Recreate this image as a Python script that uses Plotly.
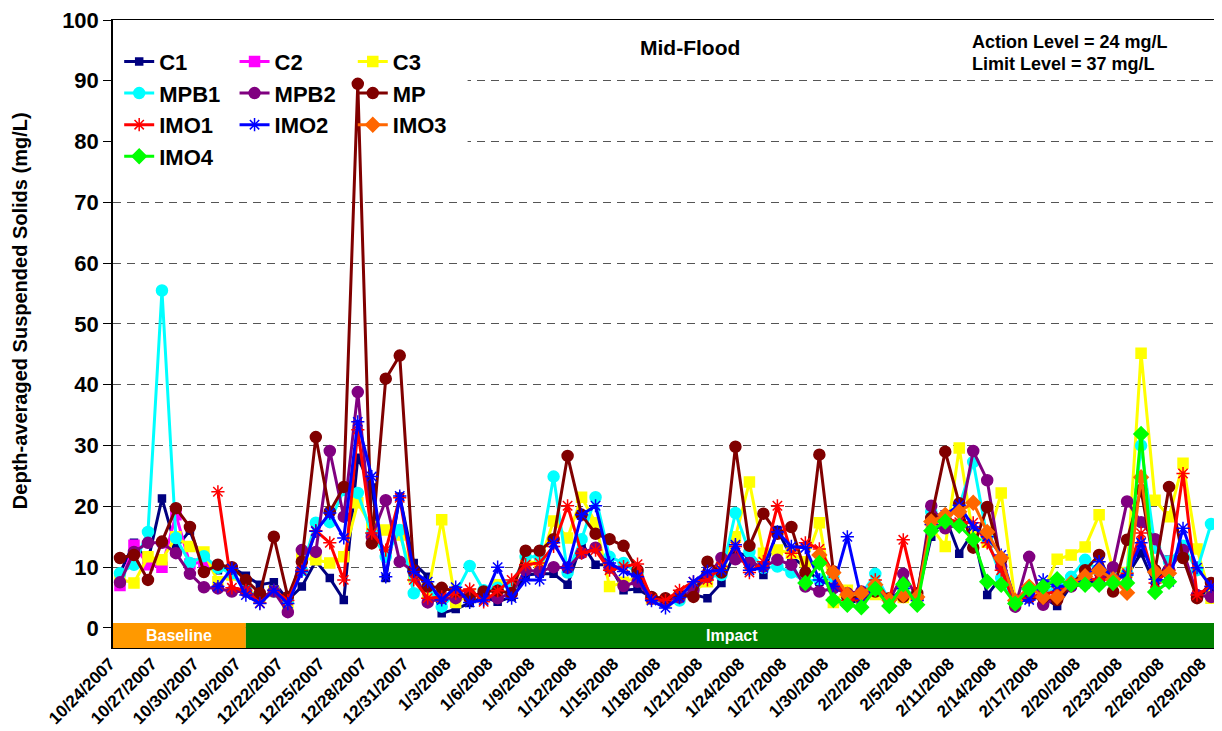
import plotly.graph_objects as go

dates = [
    "10/24/2007", "10/25/2007", "10/26/2007", "10/27/2007", "10/28/2007", "10/29/2007",
    "10/30/2007", "10/31/2007", "12/18/2007", "12/19/2007", "12/20/2007", "12/21/2007",
    "12/22/2007", "12/23/2007", "12/24/2007", "12/25/2007", "12/26/2007", "12/27/2007",
    "12/28/2007", "12/29/2007", "12/30/2007", "12/31/2007", "1/1/2008", "1/2/2008",
    "1/3/2008", "1/4/2008", "1/5/2008", "1/6/2008", "1/7/2008", "1/8/2008",
    "1/9/2008", "1/10/2008", "1/11/2008", "1/12/2008", "1/13/2008", "1/14/2008",
    "1/15/2008", "1/16/2008", "1/17/2008", "1/18/2008", "1/19/2008", "1/20/2008",
    "1/21/2008", "1/22/2008", "1/23/2008", "1/24/2008", "1/25/2008", "1/26/2008",
    "1/27/2008", "1/28/2008", "1/29/2008", "1/30/2008", "1/31/2008", "2/1/2008",
    "2/2/2008", "2/3/2008", "2/4/2008", "2/5/2008", "2/7/2008", "2/9/2008",
    "2/11/2008", "2/12/2008", "2/13/2008", "2/14/2008", "2/15/2008", "2/16/2008",
    "2/17/2008", "2/18/2008", "2/19/2008", "2/20/2008", "2/21/2008", "2/22/2008",
    "2/23/2008", "2/24/2008", "2/25/2008", "2/26/2008", "2/27/2008", "2/28/2008",
    "2/29/2008",
]
tick_labels = dates[::3]

N = None
C1 = [9, 14, 11, 21.3, 13.2, 16, 10, 9.5, 10, 8.6, 7.1, 7.5, 4.6, 6.8, 11, 8.2, 4.6, 28, 23.1, 8.2,
      21.6, 10.7, 8.4, 2.4, 3.1, 4.1, 5.1, 4.3, 5.1, 8.7, 8.9, 8.9, 7.1, 14, 10.4, 10.4, 6.2, 6.4, 5, 4,
      5, 5.5, 4.9, 7.4, 12.5, 11.7, 8.7, 16.1, 11.7, 10, 7.6, 8.4, 4.5, 4.2, 6, 4.5, 6, 5, 15, 18.3,
      12.2, 15.8, 5.4, 8.4, 4, 4.9, 5, 3.6, 7, 7.1, 8.2, 8, 8.6, 12.3, 7.1, 11.2, 12, 5.5, 6]
C2 = [7, 13.6, 10.4, 10, 18.6, 10.5, 10.9] + [N] * 72
C3 = [8, 7.4, 11.7, 11.2, 15, 13.4, 12.5, 7.6, 8.7, 6.5, 5, 6, 4, 11.5, 11.2, 10.7, 11.7, 20.6, 16.6, 16.1,
      15.3, 8.4, 5.7, 17.8, 4.2, 5.5, 5.5, 7.1, 6.8, 10.9, 10.7, 17.6, 14.8, 21.5, 17.3, 6.8, 7.5, 8.4, 4.8, 4.3,
      5, 6, 7.6, 9.9, 15, 24, 12.3, 12.8, 12.3, 10.9, 17.3, 4.2, 6.2, 5, 5.5, 4.5, 5, 4.5, 16.6, 13.4,
      29.6, 15, 14.1, 22.2, 4.5, 6, 6, 11.3, 12, 13.3, 18.6, 9.5, 9.1, 45.2, 21, 18.3, 27.1, 13, 4.9]
MPB1 = [9, 10.4, 15.8, 55.5, 14.8, 10.7, 11.8, 9.9, 9, 6.2, 5, 6, 4.5, 9.5, 17.3, 17.4, 22.7, 22.2, 15.5, 11.7,
        16.1, 5.7, 6.8, 3.5, 5.7, 10.2, 6.2, 6.6, 7.1, 11.7, 11.7, 24.9, 9.1, 14.6, 21.5, 11.7, 10.7, 9, 5, 4.3,
        4.5, 6.5, 8.4, 8.7, 18.9, 12.5, 9.9, 10.1, 9.1, 7.6, 8, 8.4, 5, 5.5, 8.9, 4.5, 6.5, 5, 19.1, 18.1,
        20, 27.3, 14.8, 8.2, 4, 6, 6, 6.5, 8.4, 11.2, 9.3, 8.2, 9, 30, 13.2, 10.9, 13.5, 9.5, 17.1]
MPB2 = [7.5, 12.5, 14, 14, 12.3, 8.9, 6.7, 6.5, 6, 6, 5, 6, 2.6, 12.8, 12.5, 29.1, 18.3, 38.8, 15, 21,
        10.9, 9.3, 4.2, 4.9, 4.9, 5.5, 5.5, 4.9, 5.7, 9.5, 9.3, 10, 9.9, 12.3, 13.2, 9.9, 6.9, 7.6, 4.8, 4.5,
        5, 6.2, 8.4, 11.5, 11.3, 10.7, 10.1, 11.2, 10.4, 6.8, 6, 6.5, 5.7, 6, 6.5, 4.5, 8.9, 5, 20.1, 16.4,
        17, 29.1, 24.3, 10.1, 3.5, 11.7, 3.8, 5, 6.8, 8.5, 7.5, 10, 20.8, 17.4, 14.6, 9.5, 12.8, 5.4, 5.1]
MP = [11.5, 12, 7.9, 14.2, 19.7, 16.6, 9.2, 10.4, 10, 7.9, 5.7, 15, 5.1, 10.9, 31.4, 19.1, 23.2, 89.5, 13.9, 41,
      44.8, 9.5, 6.8, 6.6, 6, 4.9, 6, 6.1, 5.7, 12.7, 12.7, 14.6, 28.3, 18.6, 15.5, 14.6, 13.5, 9.5, 5.1, 4.9,
      5.5, 5.1, 10.9, 9.1, 29.8, 13.5, 18.8, 15.5, 16.6, 9.1, 28.5, 9.3, 5.1, 4.9, 6, 4.9, 5.1, 5.7, 18.1, 29,
      20.5, 13.2, 19.9, 11.2, 4.5, 5, 5, 4.6, 7, 9.5, 12, 6, 14.5, 22.7, 9.5, 23.2, 11.5, 4.9, 7.4]
IMO1 = [N] * 7 + [22.4, 6.6, 6.2, 4.1, 6.2, 4.5, 9.5, 16, 14, 7.9, 32.6, 15.6, 12.8,
                  21.4, 7.9, 4.9, 5.1, 5.7, 6.4, 4.3, 6.1, 7.9, 10.4, 10.7, 13.4, 20.1, 12.3, 12.8, 9.5, 10.1, 10.5, 4.8, 4.5,
                  6.2, 7.6, 7.9, 10.1, 13.4, 9.1, 10.9, 20.1, 12.3, 14, 13, 9, 4.5, 4.8, 7.9, 4.5, 14.5, 4.8, 17, 18,
                  17.4, 17.3, 14, 9.5, 4, 5.1, 5.5, 6, 7, 8, 8, 8, 9, 15.6, 7.4, 9.5, 25.4, 5.4, 6.8]
IMO2 = [N] * 7 + [6.8, 9.8, 5.4, 4, 6.2, 4, 9.3, 15.9, 18.9, 14.8, 33.9, 24.9, 8.4,
                  21.7, 9.3, 7.6, 4.6, 6.7, 4.2, 4.6, 10, 4.9, 7.9, 7.9, 14, 9.9, 18.6, 20.1, 10.7, 9.3, 8.4, 4.5, 3.3,
                  5, 7.6, 9.3, 9.5, 13.7, 9.5, 9.9, 15.8, 13.4, 13.2, 7.9, 6.8, 15, 4.8, 6.5, 4.5, 6.5, 4.5, 17, 18.6,
                  20.2, 16.6, 15, 12, 4.3, 4.6, 7.9, 6.8, 7, 8, 10.9, 8, 8.7, 14, 8, 7.6, 16.4, 9.9, 6.8]
IMO3 = [N] * 50 + [12, 9.1, 5.5, 5.7, 7.1, 4.6, 5.4, 5.1, 17.5, 18.6,
                   19.1, 20.6, 15.8, 11.5, 4.5, 6.8, 5.1, 5.1, 7.4, 8.5, 9.5, 8, 5.8, 24.8, 9.2, 9] + [N] * 3
IMO4 = [N] * 49 + [7.4, 10.7, 4.6, 3.8, 3.4, 6.4, 3.6, 7.2, 3.8, 16, 17.5,
                   16.8, 14.5, 7.6, 7.1, 4, 6.4, 6.8, 8, 7.1, 7.1, 7.1, 7.4, 7.4, 31.9, 5.9, 7.6] + [N] * 3

series = [
    ("C1", C1, "#000080", "square", 7, "legend"),
    ("C2", C2, "#FF00FF", "square", 10, "legend2"),
    ("C3", C3, "#FFFF00", "square", 10, "legend3"),
    ("MPB1", MPB1, "#00FFFF", "circle", 11, "legend"),
    ("MPB2", MPB2, "#800080", "circle", 11, "legend2"),
    ("MP", MP, "#800000", "circle", 11, "legend3"),
    ("IMO1", IMO1, "#FF0000", "asterisk-open", 11, "legend"),
    ("IMO2", IMO2, "#0000FF", "asterisk-open", 11, "legend2"),
    ("IMO3", IMO3, "#FF6600", "diamond", 11, "legend3"),
    ("IMO4", IMO4, "#00FF00", "diamond", 11, "legend"),
]

FONT = "Liberation Sans, Arial, sans-serif"
fig = go.Figure()
for name, vals, col, sym, sz, lg in series:
    fig.add_trace(go.Scatter(
        x=dates, y=vals, name=name, mode="lines+markers", legend=lg,
        line=dict(color=col, width=3),
        marker=dict(symbol=sym, size=sz, color=col, line=dict(color=col, width=1.5)),
        connectgaps=False,
    ))

legend_common = dict(font=dict(family=FONT, size=22, color="black", weight="bold"),
                     bgcolor="rgba(0,0,0,0)", borderwidth=0, xanchor="left", yanchor="top",
                     tracegroupgap=0, orientation="v")
fig.update_layout(
    width=1214, height=723,
    margin=dict(l=105, r=4, t=12, b=83, autoexpand=False),
    paper_bgcolor="white", plot_bgcolor="white",
    font=dict(family=FONT, color="black"),
    legend=dict(x=0.0056, y=0.967, **legend_common),
    legend2=dict(x=0.110, y=0.967, **legend_common),
    legend3=dict(x=0.217, y=0.967, **legend_common),
    showlegend=True,
)
fig.update_xaxes(
    type="category", categoryorder="array", categoryarray=dates,
    range=[-0.5, len(dates) - 0.5], automargin=False,
    tickmode="array", tickvals=tick_labels, ticktext=tick_labels,
    tickangle=-45, tickfont=dict(family=FONT, size=17, color="black", weight="bold"),
    ticklabelshift=-10, ticklabelstandoff=-2, ticklabeloverflow="allow",
    showgrid=False, showline=True, mirror=True, linecolor="black", linewidth=1.2,
    ticks="", zeroline=False,
)
fig.update_yaxes(
    range=[-3.3, 100], tickmode="array", tickvals=list(range(0, 101, 10)), automargin=False,
    tickfont=dict(family=FONT, size=22, color="black", weight="bold"),
    ticklabeloverflow="allow",
    ticks="outside", ticklen=8, tickcolor="black", tickwidth=1.2,
    showline=True, mirror=True, linecolor="black", linewidth=1.5,
    showgrid=True, gridcolor="#555555", gridwidth=1.3, griddash="8px,6px",
    zeroline=False,
)

# white panel behind the legend (hides gridlines, stays under the data)
fig.add_shape(type="rect", xref="x", yref="y", x0=-0.5, x1=24.85, y0=73.5, y1=97.5,
              fillcolor="white", line=dict(width=0), layer="between")
# phase bars
fig.add_shape(type="rect", xref="x", yref="y", x0=-0.5, x1=9, y0=-3.3, y1=0.8,
              fillcolor="#FF9900", line=dict(width=0), layer="above")
fig.add_shape(type="rect", xref="x", yref="y", x0=9, x1=len(dates) - 0.5, y0=-3.3, y1=0.8,
              fillcolor="#008000", line=dict(width=0), layer="above")
fig.add_annotation(x=4.25, y=-1.25, xref="x", yref="y", text="Baseline", showarrow=False,
                   font=dict(family=FONT, size=16, color="white", weight="bold"))
fig.add_annotation(x=43.75, y=-1.25, xref="x", yref="y", text="Impact", showarrow=False,
                   font=dict(family=FONT, size=16, color="white", weight="bold"))

fig.add_annotation(x=0.522, y=0.978, xref="paper", yref="paper", text="Mid-Flood", showarrow=False,
                   font=dict(family=FONT, size=21, color="black", weight="bold"))
fig.add_annotation(x=0.776, y=0.9835, xref="paper", yref="paper", xanchor="left",
                   text="Action Level = 24 mg/L", showarrow=False,
                   font=dict(family=FONT, size=18, color="black", weight="bold"))
fig.add_annotation(x=0.776, y=0.9485, xref="paper", yref="paper", xanchor="left",
                   text="Limit Level = 37 mg/L", showarrow=False,
                   font=dict(family=FONT, size=18, color="black", weight="bold"))
fig.add_annotation(x=-0.0965, y=0.537, xref="paper", yref="paper", textangle=-90,
                   text="Depth-averaged Suspended Solids (mg/L)", showarrow=False,
                   font=dict(family=FONT, size=20, color="black", weight="bold"))

fig.write_html("out.html")
